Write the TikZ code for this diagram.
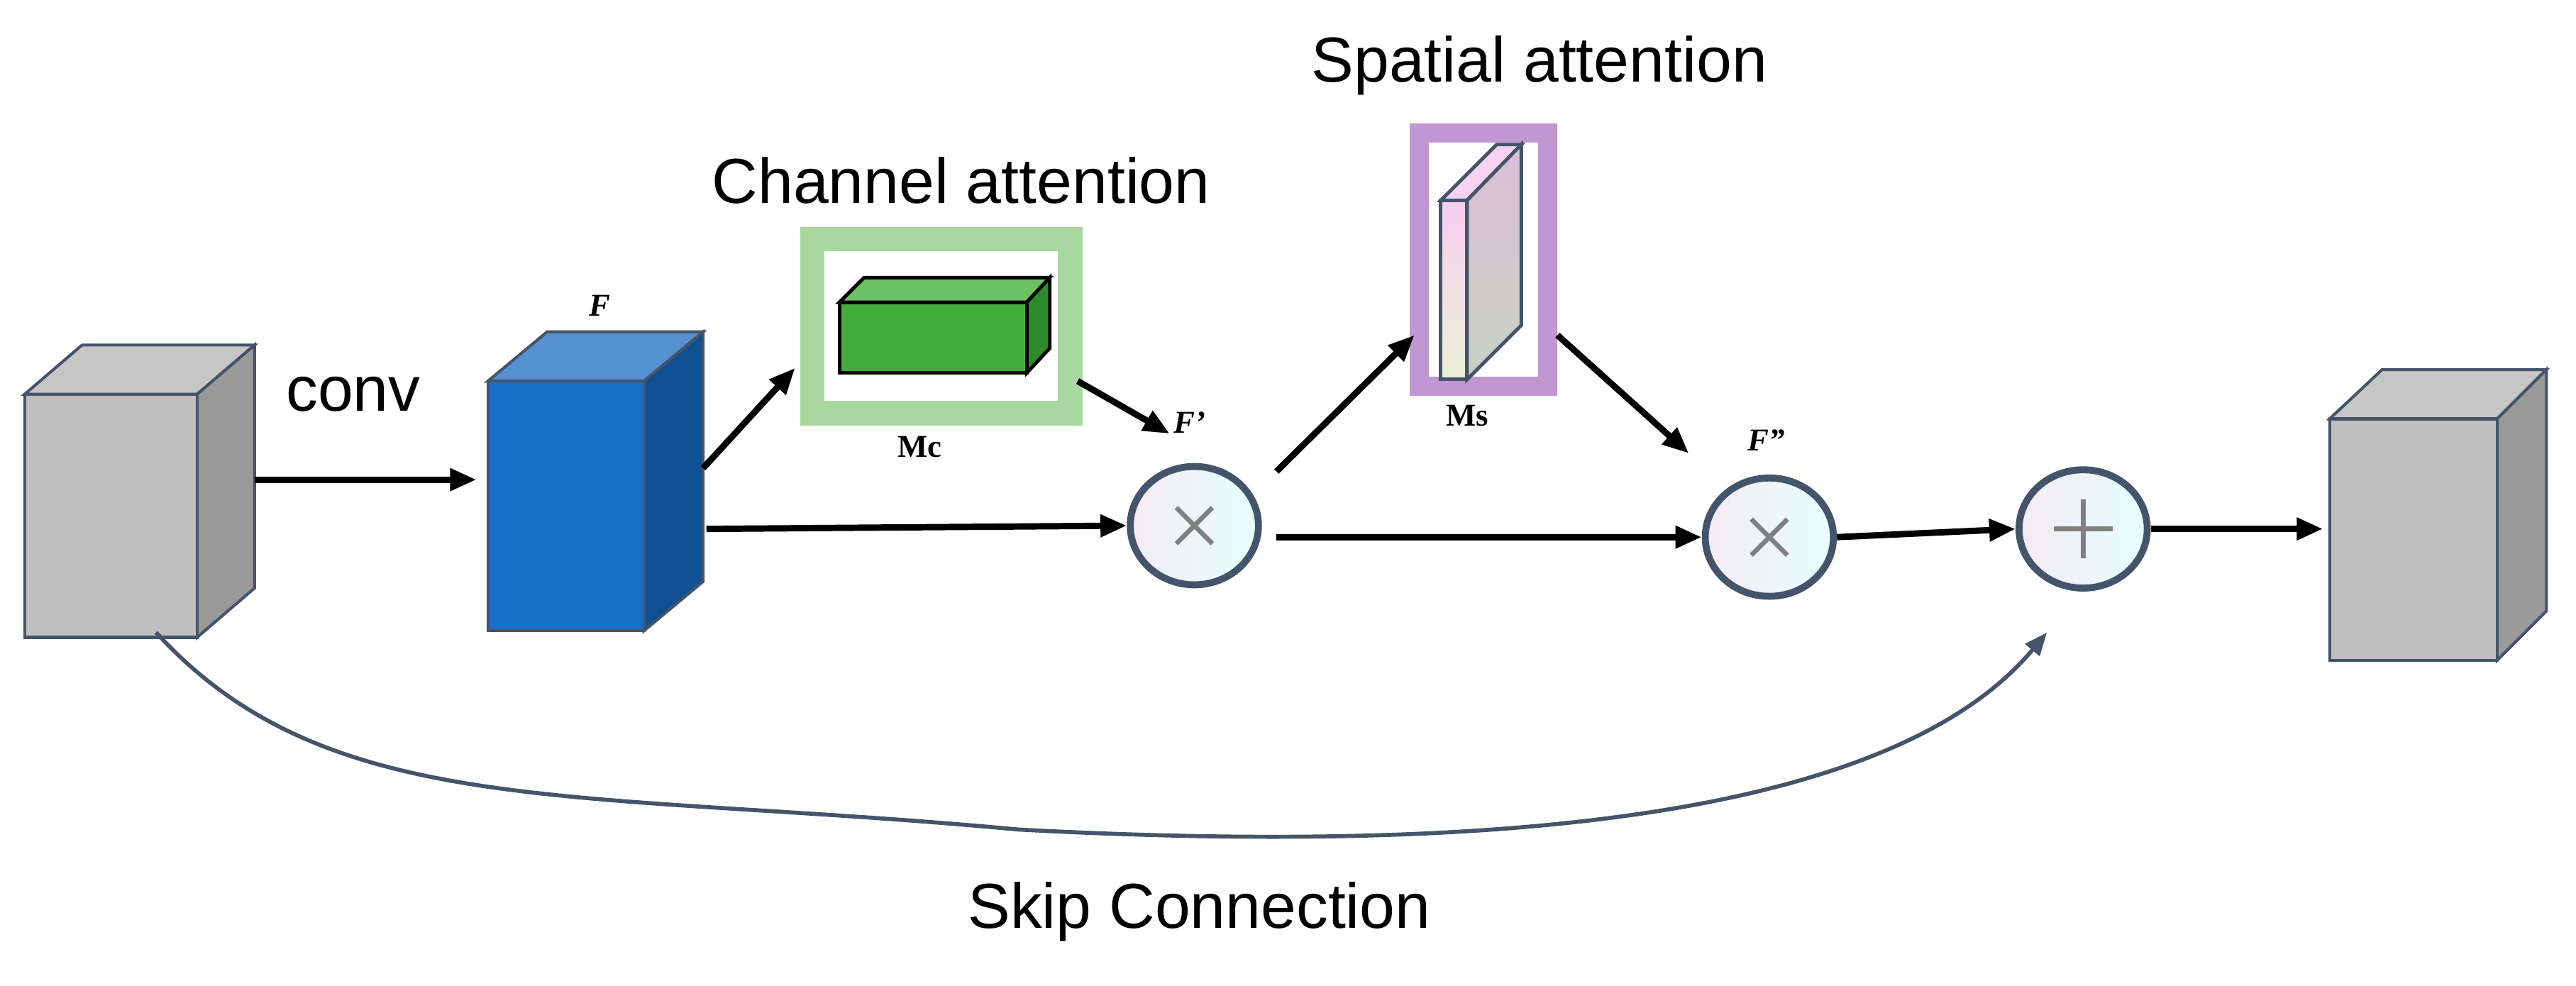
\documentclass[tikz,border=0pt]{standalone}
\usepackage{fontspec}
\setmainfont{Liberation Serif}
\newfontfamily\sansf{Liberation Sans}
\usetikzlibrary{arrows.meta,shapes.geometric,calc}
\definecolor{edge}{HTML}{44546A}
\begin{document}
\begin{tikzpicture}[x=0.01cm,y=-0.01cm,
  arr/.style={-{Triangle[length=0.16cm,width=0.13cm]},line width=1.1pt},
  op/.style={ellipse,draw=edge,line width=1.2pt,minimum width=0.78cm,minimum height=0.72cm,left color=violet!8,right color=cyan!10,inner sep=0pt},
  big/.style={font=\sansf\fontsize{11pt}{13pt}\selectfont},
  lab/.style={font=\bfseries\fontsize{5.5pt}{6pt}\selectfont},
  flab/.style={font=\bfseries\itshape\fontsize{5.5pt}{6pt}\selectfont}]
\useasboundingbox (0,0) rectangle (1568,600);
% left gray cube
\filldraw[draw=edge,fill=gray!45,line width=0.5pt] (15,240) -- (50,210) -- (155,210) -- (120,240) -- cycle;
\filldraw[draw=edge,fill=gray!80,line width=0.5pt] (120,240) -- (155,210) -- (155,358) -- (120,388) -- cycle;
\filldraw[draw=edge,fill=gray!50,line width=0.5pt] (15,240) rectangle (120,388);
\coordinate (inR) at (155,292);
\coordinate (inB) at (95,385);
\node[big] (conv) at (215,240) {conv};
% blue cube
\filldraw[draw=edge,fill={rgb,255:red,85;green,144;blue,208},line width=0.5pt] (297,232) -- (333,202) -- (428,202) -- (392,232) -- cycle;
\filldraw[draw=edge,fill={rgb,255:red,14;green,80;blue,145},line width=0.5pt] (392,232) -- (428,202) -- (428,354) -- (392,384) -- cycle;
\filldraw[draw=edge,fill={rgb,255:red,22;green,112;blue,200},line width=0.5pt] (297,232) rectangle (392,384);
\coordinate (bL) at (290,292);
\coordinate (bT) at (428,285);
\coordinate (bR) at (430,322);
\node[flab] (F) at (365,186) {F};
% green box
\draw[line width=0.15cm,draw={rgb,255:red,168;green,216;blue,160}] (494.5,145.5) rectangle (651.5,251.5);
\filldraw[draw=black,fill={rgb,255:red,108;green,193;blue,99},line width=0.6pt] (511,184) -- (526,169) -- (639,169) -- (625,184) -- cycle;
\filldraw[draw=black,fill={rgb,255:red,45;green,138;blue,40},line width=0.6pt] (625,184) -- (639,169) -- (639,212) -- (625,227) -- cycle;
\filldraw[draw=black,fill={rgb,255:red,66;green,173;blue,58},line width=0.6pt] (511,184) rectangle (625,227);
\node[big] (ca) at (585,110) {Channel attention};
\node[lab] (Mc) at (560,272) {Mc};
\coordinate (gL) at (484,224);
\coordinate (gR) at (656,232);
% op1
\node[op] (m1) at (727,320) {};
\draw[gray,line width=0.8pt] ($(m1)+(-11,-11)$) -- ($(m1)+(11,11)$) ($(m1)+(-11,11)$) -- ($(m1)+(11,-11)$);
\node[flab] (F1) at (724,257) {F'};
% purple box
\draw[line width=0.116cm,draw={rgb,255:red,193;green,151;blue,210}] (864,81) rectangle (942,235);
\draw[draw=edge,line width=0.6pt,fill={rgb,255:red,246;green,210;blue,240}] (877,122) -- (911,88) -- (926,88) -- (893,122) -- cycle;
\draw[draw=edge,line width=0.6pt,top color={rgb,255:red,220;green,190;blue,215},bottom color={rgb,255:red,200;green,210;blue,195}] (893,122) -- (926,88) -- (926,198) -- (893,231) -- cycle;
\draw[draw=edge,line width=0.6pt,top color={rgb,255:red,246;green,205;blue,240},bottom color={rgb,255:red,235;green,240;blue,215}] (877,122) rectangle (893,231);
\node[big] (sa) at (937,40) {Spatial attention};
\node[lab] (Ms) at (893,253) {Ms};
\coordinate (pL) at (861,204);
\coordinate (pR) at (948,204);
% op2
\node[op] (m2) at (1077,327) {};
\draw[gray,line width=0.8pt] ($(m2)+(-11,-11)$) -- ($(m2)+(11,11)$) ($(m2)+(-11,11)$) -- ($(m2)+(11,-11)$);
\node[flab] (F2) at (1075,268) {F''};
% plus
\node[op] (pl) at (1268,322) {};
\draw[gray,line width=0.8pt] ($(pl)+(-18,0)$) -- ($(pl)+(18,0)$) ($(pl)+(0,-18)$) -- ($(pl)+(0,18)$);
% right cube
\filldraw[draw=edge,fill=gray!45,line width=0.5pt] (1418,255) -- (1450,225) -- (1550,225) -- (1520,255) -- cycle;
\filldraw[draw=edge,fill=gray!80,line width=0.5pt] (1520,255) -- (1550,225) -- (1550,372) -- (1520,402) -- cycle;
\filldraw[draw=edge,fill=gray!50,line width=0.5pt] (1418,255) rectangle (1520,402);
\coordinate (outL) at (1414,322);
% arrows
\draw[arr] (inR) -- (bL);
\draw[arr] (bT) -- (gL);
\draw[arr] (bR) -- (m1.west);
\draw[arr] (gR) -- (712,264);
\draw[arr] (777,287) -- (pL);
\draw[arr] (pR) -- (1028,276);
\draw[arr] (777,327) -- (m2.west);
\draw[arr] (m2.east) -- (pl.west);
\draw[arr] (pl.east) -- (outL);
\draw[edge,line width=0.7pt,-{Triangle[length=0.14cm,width=0.11cm]}] (inB) .. controls (200,500) and (350,480) .. (620,505) .. controls (900,520) and (1150,500) .. (1246,385);
\node[big] (skip) at (730,555) {Skip Connection};
\end{tikzpicture}
\end{document}
